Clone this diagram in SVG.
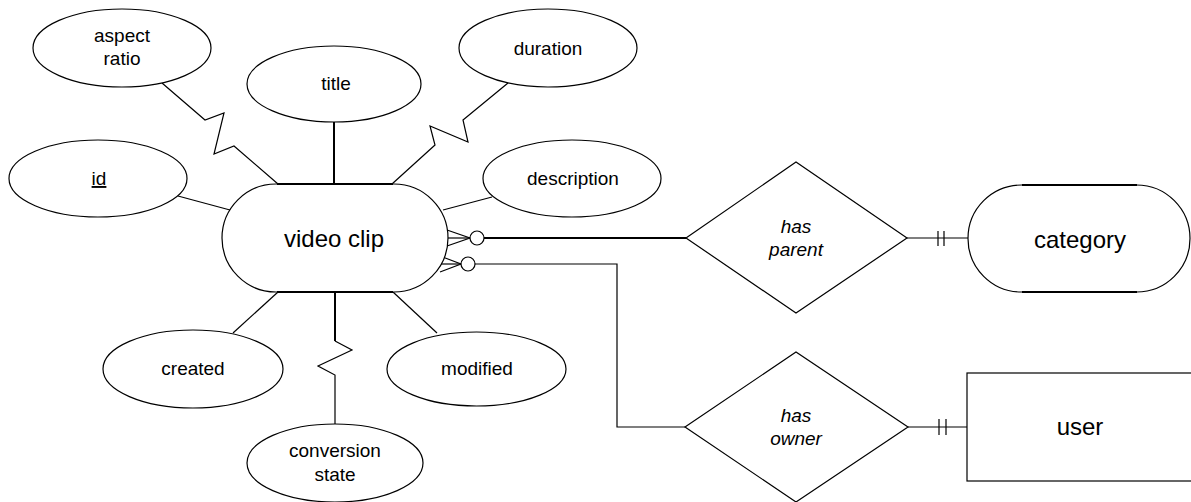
<svg xmlns="http://www.w3.org/2000/svg" width="1191" height="502" viewBox="0 0 1191 502">
  <style>
    .shape { fill: #ffffff; stroke: #000000; stroke-width: 1.2; }
    .edge { fill: none; stroke: #000000; stroke-width: 1.2; }
    .thick { fill: none; stroke: #000000; stroke-width: 2; }
    .attr { font-family: "Liberation Sans", Arial, sans-serif; font-size: 19px; fill: #000000; text-anchor: middle; }
    .ent { font-family: "Liberation Sans", Arial, sans-serif; font-size: 24px; fill: #000000; text-anchor: middle; }
    .rel { font-family: "Liberation Sans", Arial, sans-serif; font-size: 19px; font-style: italic; fill: #000000; text-anchor: middle; }
  </style>

  <!-- connectors -->
  <g id="connectors">
    <!-- attribute links -->
    <polyline class="edge" points="162,83 205,120 224,113 214,154 234,146 278,184"/>
    <line class="thick" x1="334" y1="122" x2="334" y2="184"/>
    <polyline class="edge" points="508,83 463,120 468,142 430,126 435,145 392,184"/>
    <line class="edge" x1="178" y1="196" x2="230" y2="210"/>
    <line class="edge" x1="443" y1="210" x2="492" y2="197"/>
    <line class="edge" x1="233" y1="333" x2="278" y2="292"/>
    <line class="edge" x1="393" y1="292" x2="437" y2="333"/>
    <polyline class="thick" points="335,292 335,341"/>
    <polyline class="edge" points="335,341 352,350 318,366 335,375 335,424"/>

    <!-- video clip to has parent: zero-or-many end -->
    <polyline class="edge" points="447,230 470,238 447,246"/>
    <line class="edge" x1="447" y1="238" x2="470" y2="238"/>
    <circle class="shape" cx="477" cy="238" r="7"/>
    <line class="thick" x1="484" y1="238" x2="686" y2="238"/>

    <!-- has parent to category: exactly one -->
    <line class="edge" x1="907" y1="238" x2="968" y2="238"/>
    <line class="edge" x1="938" y1="231" x2="938" y2="246"/>
    <line class="edge" x1="944" y1="231" x2="944" y2="246"/>

    <!-- video clip to has owner: zero-or-many end -->
    <polyline class="edge" points="440,256 461,264 440,272"/>
    <line class="edge" x1="438" y1="264" x2="461" y2="264"/>
    <circle class="shape" cx="468" cy="264" r="7"/>
    <polyline class="edge" points="475,264 617,264 617,427 685,427"/>

    <!-- has owner to user: exactly one -->
    <line class="edge" x1="908" y1="427" x2="967" y2="427"/>
    <line class="edge" x1="939" y1="419" x2="939" y2="435"/>
    <line class="edge" x1="946" y1="419" x2="946" y2="435"/>
  </g>

  <!-- attributes -->
  <g id="attr-aspect-ratio">
    <ellipse class="shape" cx="122" cy="48" rx="89" ry="39"/>
    <text class="attr" x="122" y="42">aspect</text>
    <text class="attr" x="122" y="65">ratio</text>
  </g>
  <g id="attr-title">
    <ellipse class="shape" cx="334" cy="84" rx="87" ry="38"/>
    <text class="attr" x="336" y="90">title</text>
  </g>
  <g id="attr-duration">
    <ellipse class="shape" cx="548" cy="48" rx="89" ry="39"/>
    <text class="attr" x="548" y="55">duration</text>
  </g>
  <g id="attr-id">
    <ellipse class="shape" cx="98" cy="178.5" rx="89" ry="38.5"/>
    <text class="attr" x="99" y="185" text-decoration="underline">id</text>
  </g>
  <g id="attr-description">
    <ellipse class="shape" cx="572" cy="178.5" rx="89" ry="38.5"/>
    <text class="attr" x="573" y="185">description</text>
  </g>
  <g id="attr-created">
    <ellipse class="shape" cx="193" cy="369" rx="90" ry="39"/>
    <text class="attr" x="193" y="375">created</text>
  </g>
  <g id="attr-modified">
    <ellipse class="shape" cx="476.5" cy="369" rx="89.5" ry="37"/>
    <text class="attr" x="477" y="375">modified</text>
  </g>
  <g id="attr-conversion-state">
    <ellipse class="shape" cx="335" cy="463" rx="88" ry="39"/>
    <text class="attr" x="335" y="457">conversion</text>
    <text class="attr" x="335" y="481">state</text>
  </g>

  <!-- entities -->
  <g id="entity-video-clip">
    <rect class="shape" x="222" y="184" width="226" height="108" rx="54" ry="54"/>
    <line class="thick" x1="277" y1="184" x2="393" y2="184"/>
    <line class="thick" x1="277" y1="292" x2="393" y2="292"/>
    <text class="ent" x="334" y="247">video clip</text>
  </g>
  <g id="entity-category">
    <rect class="shape" x="968" y="185" width="222" height="107" rx="53.5" ry="53.5"/>
    <line class="thick" x1="1022" y1="185" x2="1137" y2="185"/>
    <line class="thick" x1="1022" y1="292" x2="1137" y2="292"/>
    <text class="ent" x="1080" y="248">category</text>
  </g>
  <g id="entity-user">
    <rect class="shape" x="967" y="373" width="240" height="108"/>
    <text class="ent" x="1080" y="435">user</text>
  </g>

  <!-- relationships -->
  <g id="rel-has-parent">
    <polygon class="shape" points="686,238 796,162 907,238 796,313"/>
    <text class="rel" x="796" y="233">has</text>
    <text class="rel" x="796" y="256">parent</text>
  </g>
  <g id="rel-has-owner">
    <polygon class="shape" points="685,427 796,352 908,427 796,502"/>
    <text class="rel" x="796" y="422">has</text>
    <text class="rel" x="796" y="445">owner</text>
  </g>
</svg>
